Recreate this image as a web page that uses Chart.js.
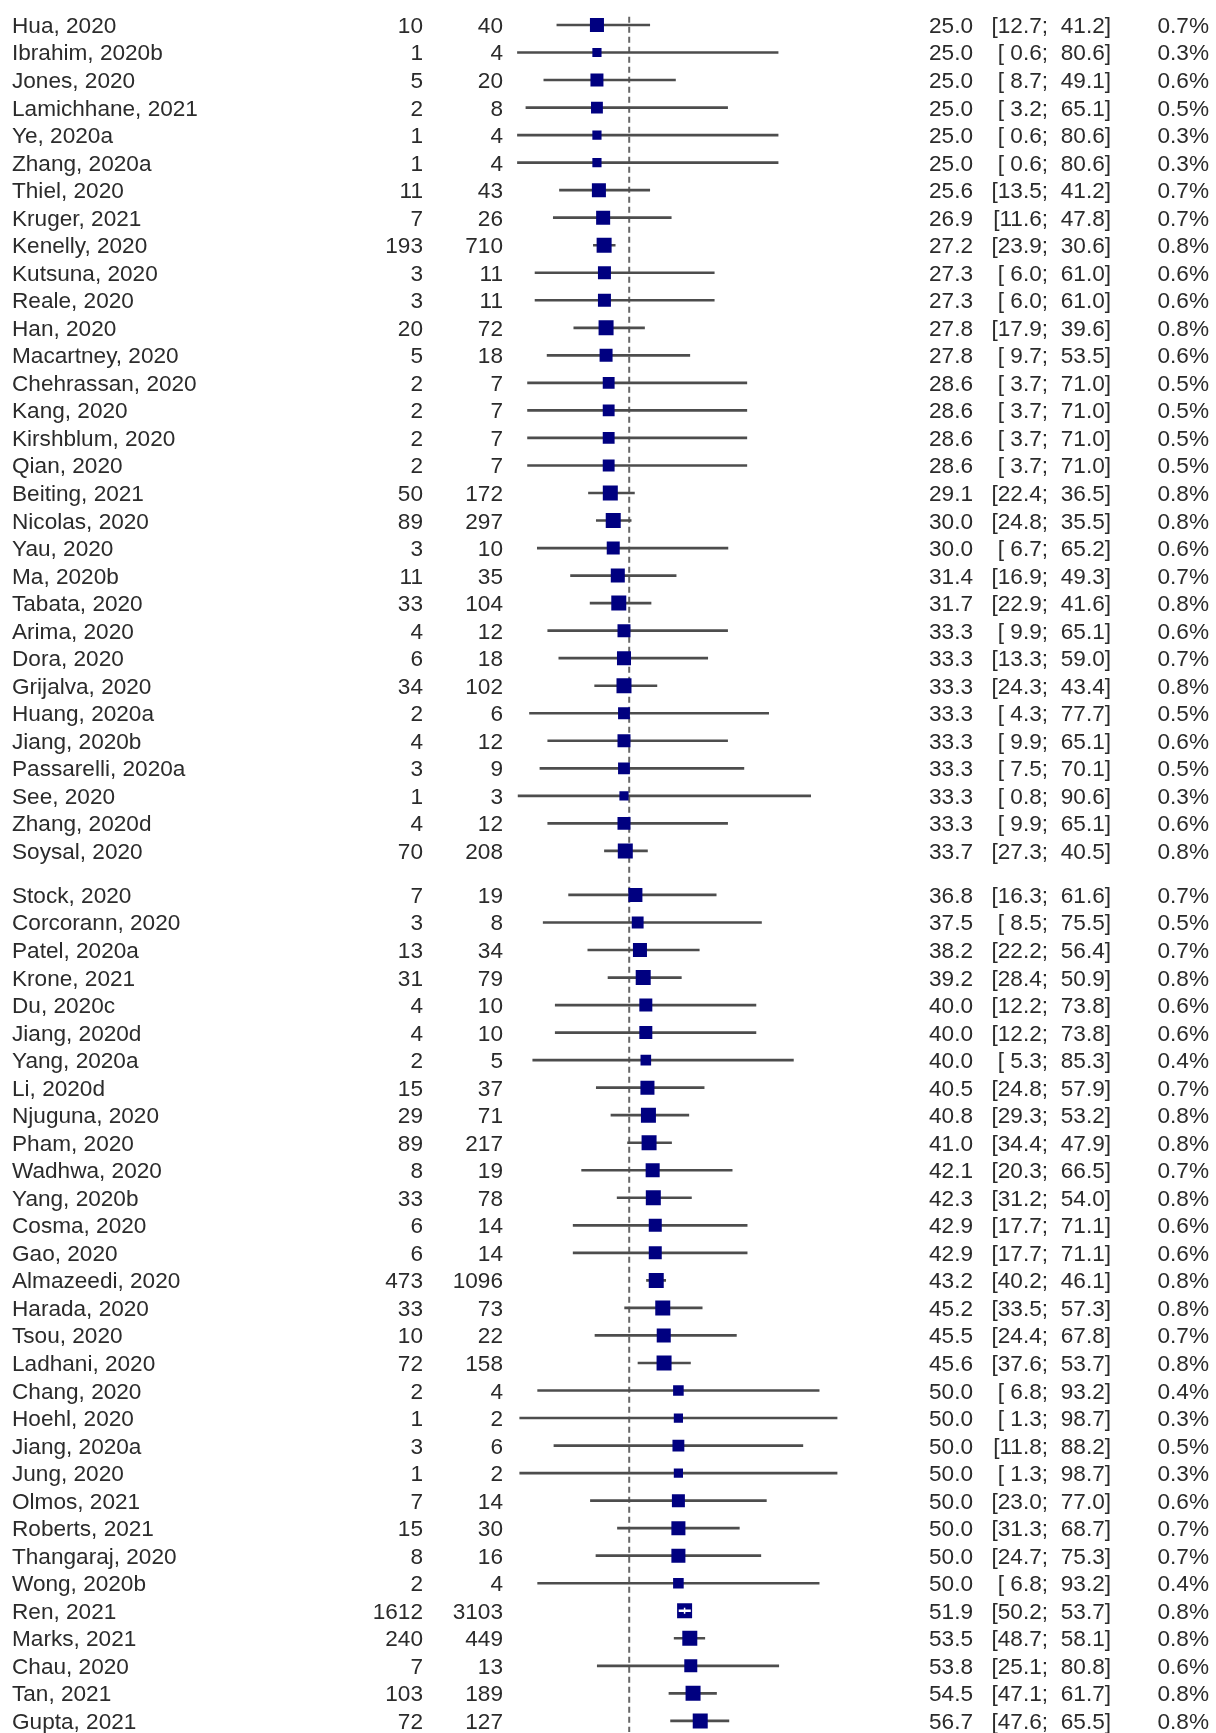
<!DOCTYPE html>
<html>
<head>
<meta charset="utf-8">
<script src="https://cdn.jsdelivr.net/npm/chart.js@4"></script>
<style>
	html, body { margin: 0; padding: 0; background: #fff; }
	canvas { display: block; }
</style>
</head>
<body>
<canvas id="forest" width="1216" height="1733"></canvas>
<script>
var studies = ["Hua, 2020", "Ibrahim, 2020b", "Jones, 2020", "Lamichhane, 2021", "Ye, 2020a", "Zhang, 2020a",
	"Thiel, 2020", "Kruger, 2021", "Kenelly, 2020", "Kutsuna, 2020", "Reale, 2020", "Han, 2020",
	"Macartney, 2020", "Chehrassan, 2020", "Kang, 2020", "Kirshblum, 2020", "Qian, 2020", "Beiting, 2021",
	"Nicolas, 2020", "Yau, 2020", "Ma, 2020b", "Tabata, 2020", "Arima, 2020", "Dora, 2020",
	"Grijalva, 2020", "Huang, 2020a", "Jiang, 2020b", "Passarelli, 2020a", "See, 2020", "Zhang, 2020d",
	"Soysal, 2020",
	"Stock, 2020", "Corcorann, 2020", "Patel, 2020a", "Krone, 2021", "Du, 2020c", "Jiang, 2020d",
	"Yang, 2020a", "Li, 2020d", "Njuguna, 2020", "Pham, 2020", "Wadhwa, 2020", "Yang, 2020b",
	"Cosma, 2020", "Gao, 2020", "Almazeedi, 2020", "Harada, 2020", "Tsou, 2020", "Ladhani, 2020",
	"Chang, 2020", "Hoehl, 2020", "Jiang, 2020a", "Jung, 2020", "Olmos, 2021", "Roberts, 2021",
	"Thangaraj, 2020", "Wong, 2020b", "Ren, 2021", "Marks, 2021", "Chau, 2020", "Tan, 2021", "Gupta, 2021"];

var events = [10, 1, 5, 2, 1, 1, 11, 7, 193, 3, 3, 20, 5, 2, 2, 2, 2, 50, 89, 3, 11, 33, 4, 6, 34, 2, 4, 3, 1, 4, 70,
	7, 3, 13, 31, 4, 4, 2, 15, 29, 89, 8, 33, 6, 6, 473, 33, 10, 72, 2, 1, 3, 1, 7, 15, 8, 2, 1612, 240, 7, 103, 72];

var totals = [40, 4, 20, 8, 4, 4, 43, 26, 710, 11, 11, 72, 18, 7, 7, 7, 7, 172, 297, 10, 35, 104, 12, 18, 102, 6, 12, 9, 3, 12, 208,
	19, 8, 34, 79, 10, 10, 5, 37, 71, 217, 19, 78, 14, 14, 1096, 73, 22, 158, 4, 2, 6, 2, 14, 30, 16, 4, 3103, 449, 13, 189, 127];

var estimates = [25.0, 25.0, 25.0, 25.0, 25.0, 25.0, 25.6, 26.9, 27.2, 27.3, 27.3, 27.8, 27.8, 28.6, 28.6, 28.6, 28.6, 29.1,
	30.0, 30.0, 31.4, 31.7, 33.3, 33.3, 33.3, 33.3, 33.3, 33.3, 33.3, 33.3, 33.7,
	36.8, 37.5, 38.2, 39.2, 40.0, 40.0, 40.0, 40.5, 40.8, 41.0, 42.1, 42.3, 42.9, 42.9, 43.2, 45.2, 45.5, 45.6,
	50.0, 50.0, 50.0, 50.0, 50.0, 50.0, 50.0, 50.0, 51.9, 53.5, 53.8, 54.5, 56.7];

var lower = [12.7, 0.6, 8.7, 3.2, 0.6, 0.6, 13.5, 11.6, 23.9, 6.0, 6.0, 17.9, 9.7, 3.7, 3.7, 3.7, 3.7, 22.4,
	24.8, 6.7, 16.9, 22.9, 9.9, 13.3, 24.3, 4.3, 9.9, 7.5, 0.8, 9.9, 27.3,
	16.3, 8.5, 22.2, 28.4, 12.2, 12.2, 5.3, 24.8, 29.3, 34.4, 20.3, 31.2, 17.7, 17.7, 40.2, 33.5, 24.4, 37.6,
	6.8, 1.3, 11.8, 1.3, 23.0, 31.3, 24.7, 6.8, 50.2, 48.7, 25.1, 47.1, 47.6];

var upper = [41.2, 80.6, 49.1, 65.1, 80.6, 80.6, 41.2, 47.8, 30.6, 61.0, 61.0, 39.6, 53.5, 71.0, 71.0, 71.0, 71.0, 36.5,
	35.5, 65.2, 49.3, 41.6, 65.1, 59.0, 43.4, 77.7, 65.1, 70.1, 90.6, 65.1, 40.5,
	61.6, 75.5, 56.4, 50.9, 73.8, 73.8, 85.3, 57.9, 53.2, 47.9, 66.5, 54.0, 71.1, 71.1, 46.1, 57.3, 67.8, 53.7,
	93.2, 98.7, 88.2, 98.7, 77.0, 68.7, 75.3, 93.2, 53.7, 58.1, 80.8, 61.7, 65.5];

var weights = [0.7, 0.3, 0.6, 0.5, 0.3, 0.3, 0.7, 0.7, 0.8, 0.6, 0.6, 0.8, 0.6, 0.5, 0.5, 0.5, 0.5, 0.8,
	0.8, 0.6, 0.7, 0.8, 0.6, 0.7, 0.8, 0.5, 0.6, 0.5, 0.3, 0.6, 0.8,
	0.7, 0.5, 0.7, 0.8, 0.6, 0.6, 0.4, 0.7, 0.8, 0.8, 0.7, 0.8, 0.6, 0.6, 0.8, 0.8, 0.7, 0.8,
	0.4, 0.3, 0.5, 0.3, 0.6, 0.7, 0.7, 0.4, 0.8, 0.8, 0.6, 0.8, 0.8];

// pooled proportion (dashed line)
var pooled = 34.9;

// rows after Soysal are pushed down a little
var groupBreak = 31, groupGap = 0.6;

var rowPos = studies.map(function(s, i){ return i + (i >= groupBreak ? groupGap : 0); });

var boxSide = function(i){ return 15 * Math.sqrt(weights[i] / 0.8); };

// CI entirely hidden inside the square -> drawn in white
var insideBox = function(chart, i){
	var xs = chart.scales.x;
	return xs.getPixelForValue(upper[i]) - xs.getPixelForValue(lower[i]) < boxSide(i);
};

var font = "22.6px 'Liberation Sans', Arial, Helvetica, sans-serif";

var columnText = {
	id : 'columnText',
	afterDatasetsDraw : function(chart){
		var ctx = chart.ctx, ys = chart.scales.y;
		ctx.save();
		ctx.font = font;
		ctx.fillStyle = '#2b2b2b';
		ctx.textBaseline = 'alphabetic';
		studies.forEach(function(name, i){
			var y = ys.getPixelForValue(rowPos[i]) + 8;
			ctx.textAlign = 'left';
			ctx.fillText(name, 12, y);
			ctx.textAlign = 'right';
			ctx.fillText(String(events[i]), 423, y);
			ctx.fillText(String(totals[i]), 503, y);
			ctx.fillText(estimates[i].toFixed(1), 973, y);
			ctx.fillText('[' + (lower[i] < 10 ? ' ' : '') + lower[i].toFixed(1) + ';', 1048, y);
			ctx.fillText(upper[i].toFixed(1) + ']', 1111, y);
			ctx.fillText(weights[i].toFixed(1) + '%', 1209, y);
		});
		ctx.restore();
	}
};

var ciData = studies.map(function(s, i){ return {x : [lower[i], upper[i]], y : rowPos[i]}; });
var pointData = studies.map(function(s, i){ return {x : estimates[i], y : rowPos[i]}; });

new Chart("forest", {
	type : 'scatter',
	data : {
		datasets : [{
			// white CI on top of the square when it fits inside
			type : 'bar',
			indexAxis : 'y',
			data : ciData,
			barThickness : 2,
			grouped : false,
			borderWidth : 0,
			backgroundColor : function(c){ return insideBox(c.chart, c.dataIndex) ? '#ffffff' : 'rgba(0,0,0,0)'; }
		}, {
			type : 'scatter',
			data : pointData,
			pointStyle : 'line',
			rotation : 90,
			borderColor : '#ffffff',
			borderWidth : 1.5,
			pointRadius : function(c){ return insideBox(c.chart, c.dataIndex) ? 3 : 0; }
		}, {
			type : 'scatter',
			data : pointData,
			pointStyle : 'rect',
			backgroundColor : '#000080',
			borderWidth : 0,
			pointBorderWidth : 0,
			pointRadius : function(c){ return boxSide(c.dataIndex) / Math.SQRT2; }
		}, {
			type : 'bar',
			indexAxis : 'y',
			data : ciData,
			barThickness : 2,
			grouped : false,
			borderWidth : 0,
			backgroundColor : '#4d4d4d'
		}, {
			type : 'line',
			data : [{x : pooled, y : -0.3}, {x : pooled, y : 62}],
			borderColor : '#666666',
			borderWidth : 2,
			borderDash : [6, 4],
			pointRadius : 0,
			fill : false
		}]
	},
	options : {
		responsive : false,
		animation : false,
		events : [],
		layout : {
			autoPadding : false,
			padding : {left : 515.5, right : 374.7, top : 11.2, bottom : 1.1}
		},
		plugins : {
			legend : {display : false},
			tooltip : {enabled : false}
		},
		scales : {
			x : {type : 'linear', min : 0, max : 100, offset : false, display : false},
			y : {type : 'linear', min : -0.5, max : 62, reverse : true, offset : false, display : false}
		}
	},
	plugins : [columnText]
});
</script>
</body>
</html>
